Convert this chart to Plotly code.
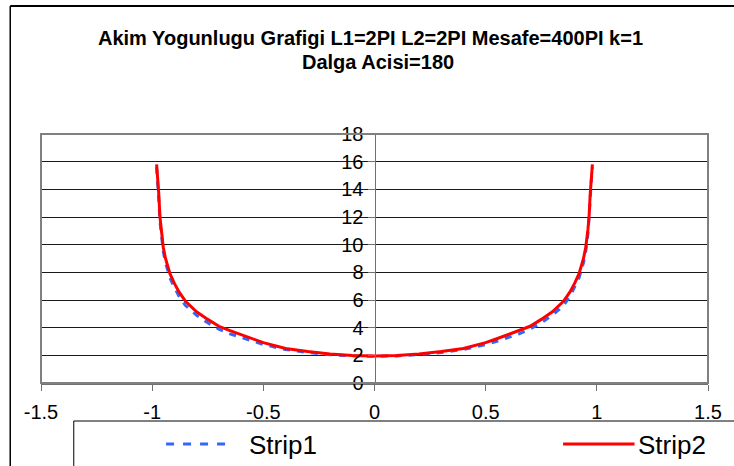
import plotly.graph_objects as go

# ---- data ----
x_vals = [-0.98, -0.975, -0.97, -0.965, -0.96, -0.95, -0.94, -0.92, -0.90, -0.88,
          -0.85, -0.80, -0.75, -0.70, -0.65, -0.60, -0.55, -0.50, -0.40, -0.30,
          -0.20, -0.10, 0.0, 0.10, 0.20, 0.30, 0.40, 0.50, 0.55, 0.60,
          0.65, 0.70, 0.75, 0.80, 0.85, 0.88, 0.90, 0.92, 0.94, 0.95,
          0.96, 0.965, 0.97, 0.975, 0.98]

strip1 = [15.6, 14.6, 13.2, 11.7, 10.8, 9.5, 8.7, 7.6, 6.9, 6.3,
          5.6, 4.9, 4.35, 3.9, 3.55, 3.28, 3.02, 2.78, 2.42, 2.2,
          2.05, 1.96, 1.93, 1.96, 2.05, 2.2, 2.42, 2.78, 3.02, 3.28,
          3.55, 3.9, 4.35, 4.9, 5.6, 6.3, 6.9, 7.6, 8.7, 9.5,
          10.8, 11.7, 13.2, 14.6, 15.6]

strip2 = [15.8, 14.9, 13.6, 12.0, 11.1, 9.8, 9.0, 7.9, 7.2, 6.6,
          5.9, 5.15, 4.6, 4.1, 3.78, 3.5, 3.2, 2.92, 2.5, 2.27,
          2.1, 1.99, 1.95, 1.99, 2.1, 2.27, 2.5, 2.92, 3.2, 3.5,
          3.78, 4.1, 4.6, 5.15, 5.9, 6.6, 7.2, 7.9, 9.0, 9.8,
          11.1, 12.0, 13.6, 14.9, 15.8]

series_names = ["Strip1", "Strip2"]
x_ticks = [-1.5, -1, -0.5, 0, 0.5, 1, 1.5]
y_ticks = [0, 2, 4, 6, 8, 10, 12, 14, 16, 18]
title_lines = ["Akim Yogunlugu Grafigi L1=2PI L2=2PI Mesafe=400PI k=1",
               "Dalga Acisi=180"]

FONT = "Liberation Sans, Arial, sans-serif"
W, H = 734, 466
L, R, T, B = 41, 21, 134, 83
PW, PH = W - L - R, H - T - B


def px(xp):
    return (xp - L) / PW


def py(yp):
    return (H - B - yp) / PH


fig = go.Figure()
fig.add_trace(go.Scatter(x=x_vals, y=strip1, mode="lines", name=series_names[0],
                         line=dict(color="#3366FF", width=3, dash="7px,7px"),
                         showlegend=False))
fig.add_trace(go.Scatter(x=x_vals, y=strip2, mode="lines", name=series_names[1],
                         line=dict(color="#FF0000", width=3),
                         showlegend=False))

shapes = [
    # plot-area border
    dict(type="rect", xref="paper", yref="paper", x0=0, x1=1, y0=0, y1=1,
         line=dict(color="#808080", width=2), layer="above"),
    # outer chart border (left and top visible)
    dict(type="line", xref="paper", yref="paper", x0=px(10), x1=px(10),
         y0=py(6), y1=py(480), line=dict(color="black", width=1.5)),
    dict(type="line", xref="paper", yref="paper", x0=px(10), x1=px(750),
         y0=py(6), y1=py(6), line=dict(color="black", width=2)),
    # legend box
    dict(type="rect", xref="paper", yref="paper", x0=px(74), x1=px(760),
         y0=py(421), y1=py(490), line=dict(color="black", width=1),
         fillcolor="white"),
    # legend samples
    dict(type="line", xref="paper", yref="paper", x0=px(167), x1=px(235),
         y0=py(444), y1=py(444),
         line=dict(color="#3366FF", width=3, dash="8px,9px")),
    dict(type="line", xref="paper", yref="paper", x0=px(567), x1=px(639),
         y0=py(444), y1=py(444), line=dict(color="#FF0000", width=3)),
]

annotations = [
    dict(text="<b>%s</b>" % title_lines[0], xref="paper", yref="paper",
         x=px(373), y=py(38), xanchor="center", yanchor="middle",
         showarrow=False, font=dict(family=FONT, size=20, color="black")),
    dict(text="<b>%s</b>" % title_lines[1], xref="paper", yref="paper",
         x=px(381), y=py(62), xanchor="center", yanchor="middle",
         showarrow=False, font=dict(family=FONT, size=20, color="black")),
    dict(text=series_names[0], xref="paper", yref="paper", x=px(249), y=py(445),
         xanchor="left", yanchor="middle", showarrow=False,
         font=dict(family=FONT, size=26, color="black")),
    dict(text=series_names[1], xref="paper", yref="paper", x=px(640), y=py(445),
         xanchor="left", yanchor="middle", showarrow=False,
         font=dict(family=FONT, size=26, color="black")),
]

fig.update_layout(
    width=W, height=H,
    margin=dict(l=L, r=R, t=T, b=B, pad=0),
    paper_bgcolor="white", plot_bgcolor="white",
    showlegend=False,
    shapes=shapes,
    annotations=annotations,
    font=dict(family=FONT, size=20, color="black"),
)

fig.update_xaxes(range=[-1.5, 1.5], tickvals=x_ticks,
                 ticktext=[("%g" % v) for v in x_ticks],
                 showgrid=False, zeroline=False,
                 showline=True, linecolor="#707070", linewidth=2,
                 ticks="outside", ticklen=6, tickcolor="#707070", tickwidth=1,
                 ticklabelstandoff=4,
                 tickfont=dict(family=FONT, size=20, color="black"))

fig.update_yaxes(range=[0, 18], tickvals=y_ticks,
                 showgrid=True, gridcolor="#1a1a1a", gridwidth=1,
                 zeroline=False,
                 anchor="free", position=0.5, side="left",
                 showline=True, linecolor="#707070", linewidth=1,
                 ticks="outside", ticklen=7, tickcolor="#707070", tickwidth=1,
                 tickfont=dict(family=FONT, size=20, color="black"))

fig.write_html("out.html")
